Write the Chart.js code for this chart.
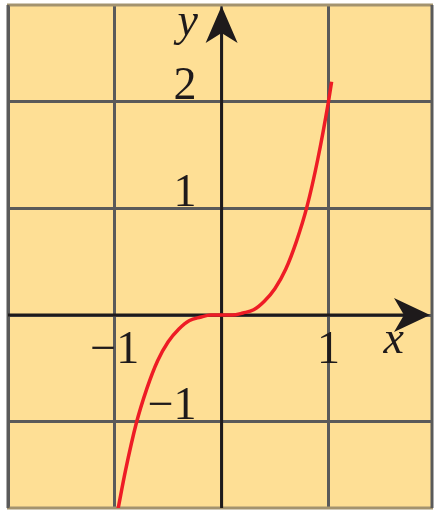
<!DOCTYPE html>
<html>
<head>
<meta charset="utf-8">
<script src="https://cdn.jsdelivr.net/npm/chart.js@4.4.1/dist/chart.umd.min.js"></script>
<style>
  html, body { margin: 0; padding: 0; background: #ffffff; }
  canvas { display: block; }
</style>
</head>
<body>
<canvas id="cubicChart" width="434" height="511"></canvas>
<script>
/* ---------- data ---------- */
const curveX = [-0.97, -0.9, -0.8, -0.7, -0.6, -0.5, -0.4, -0.3, -0.2, -0.1, 0,
                 0.1, 0.2, 0.3, 0.4, 0.5, 0.6, 0.7, 0.8, 0.9, 1.0, 1.03];
const curveY = [-1.82, -1.46, -1.02, -0.69, -0.43, -0.25, -0.13, -0.05, -0.02, 0, 0,
                 0, 0.02, 0.05, 0.13, 0.25, 0.43, 0.69, 1.02, 1.46, 2.0, 2.19];

const xRange = [-2, 1.97];
const yRange = [-1.81, 2.91];
const xGridValues = [-2, -1, 0, 1];
const yGridValues = [-1, 0, 1, 2];

const xTickValues = [-1, 1];
const xTickLabels = ['\u22121', '1'];
const yTickValues = [2, 1, -1];
const yTickLabels = ['2', '1', '\u22121'];
const axisNames = ['x', 'y'];

/* ---------- look ---------- */
const paper = '#fedf95';
const gridColor = '#5a5a5a';
const inkColor = '#1e1a1b';
const curveColor = '#ee1c25';
const labelFont = '46px "Liberation Serif", "DejaVu Serif", serif';
const nameFont = 'italic 46px "Liberation Serif", "DejaVu Serif", serif';

const points = curveX.map((x, i) => ({ x: x, y: curveY[i] }));

// paper, frame, axes with arrowheads (under the curve)
const axesPlugin = {
    id: 'axesPlugin',
    beforeDraw(chart) {
        const { ctx, chartArea: a } = chart;
        ctx.save();
        ctx.fillStyle = paper;
        ctx.fillRect(a.left, a.top, a.right - a.left, a.bottom - a.top);
        ctx.restore();
    },
    beforeDatasetsDraw(chart) {
        const { ctx, chartArea: a, scales } = chart;
        const x0 = scales.x.getPixelForValue(0);
        const y0 = scales.y.getPixelForValue(0);
        ctx.save();

        // frame
        ctx.lineWidth = 3;
        ctx.strokeStyle = '#a3936f';
        ctx.beginPath();
        ctx.moveTo(a.left - 1, a.top); ctx.lineTo(a.right + 1, a.top);
        ctx.moveTo(a.left - 1, a.bottom); ctx.lineTo(a.right + 1, a.bottom);
        ctx.stroke();
        ctx.strokeStyle = gridColor;
        ctx.beginPath();
        ctx.moveTo(a.left, a.top); ctx.lineTo(a.left, a.bottom);
        ctx.moveTo(a.right, a.top); ctx.lineTo(a.right, a.bottom);
        ctx.stroke();

        // axis lines
        ctx.strokeStyle = inkColor;
        ctx.lineWidth = 3;
        ctx.beginPath();
        ctx.moveTo(a.left, y0); ctx.lineTo(a.right - 10, y0);
        ctx.moveTo(x0, a.bottom); ctx.lineTo(x0, a.top + 10);
        ctx.stroke();

        // arrowheads
        ctx.fillStyle = inkColor;
        const tipX = a.right - 2;
        ctx.beginPath();
        ctx.moveTo(tipX, y0);
        ctx.lineTo(tipX - 36, y0 - 17);
        ctx.lineTo(tipX - 26, y0);
        ctx.lineTo(tipX - 36, y0 + 17);
        ctx.closePath();
        ctx.fill();

        const tipY = a.top + 1;
        ctx.beginPath();
        ctx.moveTo(x0, tipY);
        ctx.lineTo(x0 + 16, tipY + 37);
        ctx.lineTo(x0, tipY + 27);
        ctx.lineTo(x0 - 16, tipY + 37);
        ctx.closePath();
        ctx.fill();

        ctx.restore();
    },
    afterDraw(chart) {
        const { ctx, scales } = chart;
        const x0 = scales.x.getPixelForValue(0);
        const y0 = scales.y.getPixelForValue(0);
        ctx.save();
        ctx.fillStyle = inkColor;
        ctx.textBaseline = 'alphabetic';

        ctx.font = labelFont;
        ctx.textAlign = 'center';
        xTickValues.forEach((v, i) => {
            ctx.fillText(xTickLabels[i], scales.x.getPixelForValue(v), y0 + 48);
        });
        ctx.textAlign = 'right';
        yTickValues.forEach((v, i) => {
            ctx.fillText(yTickLabels[i], x0 - 25, scales.y.getPixelForValue(v) - 3);
        });

        ctx.font = nameFont;
        ctx.textAlign = 'center';
        ctx.fillText(axisNames[0], x0 + 172, y0 + 38);
        ctx.fillText(axisNames[1], x0 - 34, 35);
        ctx.restore();
    }
};

new Chart(document.getElementById('cubicChart'), {
    type: 'scatter',
    data: {
        datasets: [{
            data: points,
            showLine: true,
            borderColor: curveColor,
            borderWidth: 3.5,
            pointRadius: 0,
            cubicInterpolationMode: 'monotone'
        }]
    },
    options: {
        responsive: false,
        animation: false,
        layout: { padding: { left: 8, right: 2, top: 5, bottom: 3 } },
        plugins: { legend: { display: false }, tooltip: { enabled: false } },
        scales: {
            x: {
                type: 'linear',
                min: xRange[0],
                max: xRange[1],
                afterBuildTicks: s => { s.ticks = xGridValues.map(v => ({ value: v })); },
                ticks: { display: false },
                border: { display: false },
                grid: { color: gridColor, lineWidth: 3, drawTicks: false }
            },
            y: {
                type: 'linear',
                min: yRange[0],
                max: yRange[1],
                afterBuildTicks: s => { s.ticks = yGridValues.map(v => ({ value: v })); },
                ticks: { display: false },
                border: { display: false },
                grid: { color: gridColor, lineWidth: 3, drawTicks: false }
            }
        }
    },
    plugins: [axesPlugin]
});
</script>
</body>
</html>
